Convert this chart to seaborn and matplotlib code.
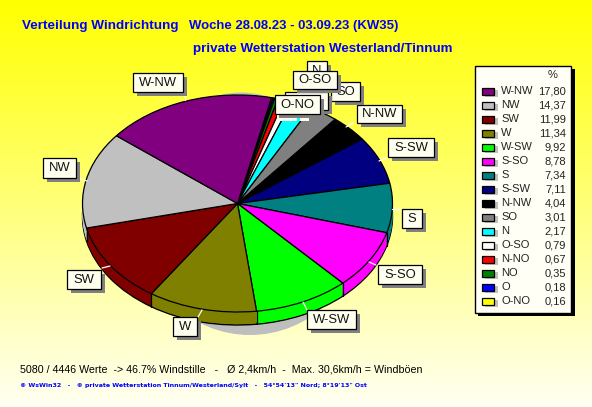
import numpy as np
import matplotlib
matplotlib.use("Agg")
import matplotlib.pyplot as plt
from matplotlib.patches import Rectangle, Ellipse
import seaborn as sns

sns.set_style("white")
plt.rcParams['font.family'] = ['Liberation Sans', 'DejaVu Sans']

# legend order
legend_names = ["W-NW", "NW", "SW", "W", "W-SW", "S-SO", "S", "S-SW", "N-NW", "SO", "N", "O-SO", "N-NO", "NO", "O", "O-NO"]
legend_vals = [17.80, 14.37, 11.99, 11.34, 9.92, 8.78, 7.34, 7.11, 4.04, 3.01, 2.17, 0.79, 0.67, 0.35, 0.18, 0.16]
legend_cols = ["#800080", "#c0c0c0", "#800000", "#808000", "#00ff00", "#ff00ff", "#008080", "#000080",
               "#000000", "#808080", "#00ffff", "#ffffff", "#ff0000", "#008000", "#0000ff", "#ffff00"]

pie_vals = legend_vals[::-1]
pie_cols = sns.color_palette(legend_cols[::-1])

W, H = 592, 407
fig = plt.figure(figsize=(W / 100, H / 100), dpi=100)

# full-figure pixel canvas
bg = fig.add_axes([0, 0, 1, 1], zorder=0)
bg.set_xlim(0, W); bg.set_ylim(H, 0); bg.axis("off")
grad = np.linspace(0, 1, 256)[:, None]
img = np.dstack([np.ones_like(grad), np.ones_like(grad), grad * 0.95])
bg.imshow(img, extent=[0, W, H, 0], aspect="auto", zorder=0)
bg.set_xlim(0, W); bg.set_ylim(H, 0)
bg.add_patch(Ellipse((250, 225), 220, 220, fc="#bebebe", ec="none", zorder=1))
bg.add_patch(Ellipse((241, 203.5), 200, 222, fc="#bebebe", ec="none", zorder=1))

# pie axes
cx, cy, a, b, dep = 237.5, 203.5, 155, 108.5, 13
pa = fig.add_axes([(cx - a) / W, 1 - (cy + b) / H, 2 * a / W, 2 * b / H], zorder=1)
start = 77.3
depth = dep / b
for k in np.linspace(1, 0, 16):
    if k == 1:
        wp = dict(edgecolor="black", linewidth=1.0)
    else:
        wp = dict(linewidth=0, edgecolor="none")
    pa.pie(pie_vals, colors=pie_cols, startangle=start, counterclock=False, radius=1,
           center=(0, -depth * k), wedgeprops=wp)
pa.pie(pie_vals, colors=pie_cols, startangle=start, counterclock=False, radius=1,
       wedgeprops=dict(edgecolor="black", linewidth=0.9))
pa.set_aspect("auto")
pa.patch.set_alpha(0)
for art in pa.get_children():
    art.set_clip_on(False)
edges = start - np.cumsum(pie_vals) / np.sum(pie_vals) * 360
for e in edges:
    x, y = np.cos(np.radians(e)), np.sin(np.radians(e))
    if y < 0:
        pa.plot([x, x], [y, y - depth], color="black", lw=0.9, clip_on=False)
pa.set_xlim(-1, 1)
pa.set_ylim(-1, 1)

# overlay
ov = fig.add_axes([0, 0, 1, 1], zorder=2)
ov.set_xlim(0, W); ov.set_ylim(H, 0); ov.axis("off"); ov.patch.set_alpha(0)
CREAM = "#fffff0"


def box(x0, y0, x1, y1, text=None, z=3, size=9.4):
    ov.add_patch(Rectangle((x0 + 3.5, y0 + 3.5), x1 - x0, y1 - y0, fc="#808080", ec="none", zorder=z))
    ov.add_patch(Rectangle((x0, y0), x1 - x0, y1 - y0, fc=CREAM, ec="black", lw=0.9, zorder=z + 0.1))
    if text:
        ov.text((x0 + x1) / 2, (y0 + y1) / 2 + 0.3, text, ha="center", va="center", fontsize=size,
                color="#111111", zorder=z + 0.2)


# leader ticks
for p, q in [((392, 209), (402, 209)), ((369, 262), (376, 265)), ((379, 161), (388, 157)),
             ((185, 95), (185, 100)), ((78, 178), (87, 181)), ((102, 268), (110, 266)),
             ((198, 317), (202, 310)), ((303, 302), (307, 310)), ((353, 123), (346, 127))]:
    ov.plot([p[0], q[0]], [p[1], q[1]], color="white", lw=0.9, zorder=2.5)

labels_px = [
    ("W-NW", 133, 73, 183, 92), ("NW", 43, 158, 76, 178), ("SW", 67, 270, 101, 289), ("W", 173, 317, 197, 336),
    ("W-SW", 307, 310, 356, 329), ("S-SO", 378, 265, 422, 284), ("S", 402, 209, 422, 228),
    ("S-SW", 388, 138, 434, 157), ("N-NW", 357, 105, 402, 123), ("SO", 331, 82, 360, 101),
    ("N", 307, 61, 327, 80),
]
for i, (t, x0, y0, x1, y1) in enumerate(labels_px):
    box(x0, y0, x1, y1, t, z=3 + i * 0.3)
ov.add_patch(Rectangle((277, 115), 20, 6, fc=CREAM, ec="none", zorder=7))
ov.add_patch(Rectangle((300, 118), 9, 3, fc=CREAM, ec="none", zorder=7))
box(285, 92, 328, 110, None, z=7.2)
box(293, 71, 337, 89, "O-SO", z=7.6)
box(275, 95, 320, 114, "O-NO", z=8)

# titles
ov.text(22, 25.5, "Verteilung Windrichtung", color="#0000ff", fontsize=9.7,
        fontweight="bold", va="center", ha="left")
ov.text(189, 25.5, "Woche 28.08.23 - 03.09.23 (KW35)", color="#0000ff", fontsize=9.45,
        fontweight="bold", va="center", ha="left")
ov.text(193, 49, "private Wetterstation Westerland/Tinnum", color="#0000ff", fontsize=9.6,
        fontweight="bold", va="center", ha="left")

# legend box
ov.add_patch(Rectangle((478, 69), 97, 247, fc="black", ec="none", zorder=3))
ov.add_patch(Rectangle((474.5, 65.5), 96.5, 247, fc="#fffff5", ec="black", lw=1, zorder=3.1))
ov.text(553, 75, "%", ha="center", va="center", fontsize=8, color="#222222", zorder=4)
for i, (n, v, c) in enumerate(zip(legend_names, legend_vals, legend_cols)):
    y = 91 + i * 14
    ov.add_patch(Rectangle((485, y - 1), 13, 7, fc="#c0c0c0", ec="none", zorder=3.5))
    ov.add_patch(Rectangle((481.5, y - 3.5), 12.5, 7, fc=c, ec="black", lw=0.9, zorder=3.6))
    ov.text(501, y + 0.3, n, ha="left", va="center", fontsize=8, color="#222222", zorder=4)
    ov.text(566, y + 0.3, f"{v:.2f}".replace(".", ","), ha="right", va="center", fontsize=8, color="#222222", zorder=4)

# footer
ov.text(20, 369, "5080 / 4446 Werte  -> 46.7% Windstille   -   Ø 2,4km/h  -  Max. 30,6km/h = Windböen",
        fontsize=7.7, color="black", va="center", ha="left")
ov.text(20, 386, "© WsWin32   -   © private Wetterstation Tinnum/Westerland/Sylt   -   54°54'13\" Nord; 8°19'13\" Ost",
        fontsize=4.48, color="#0000ff", va="center", ha="left", family="DejaVu Sans", fontweight="bold")

fig.savefig("out.png", dpi=100)
